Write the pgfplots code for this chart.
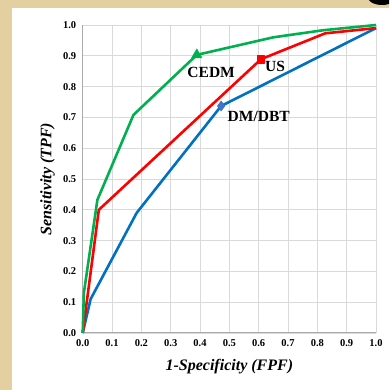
\documentclass[border=0pt]{standalone}
\usepackage{fontspec}
\setmainfont{Liberation Serif}
\usepackage{pgfplots}
\pgfplotsset{compat=1.18}

\definecolor{parchment}{RGB}{228,207,160}
\definecolor{gridgray}{RGB}{217,217,217}
\definecolor{axgray}{RGB}{170,170,170}
\definecolor{cedmgreen}{RGB}{0,176,80}
\definecolor{usred}{RGB}{255,0,0}
\definecolor{dmblue}{RGB}{0,112,192}
\definecolor{dmmark}{RGB}{68,114,196}

\begin{document}
\begin{tikzpicture}[x=1pt,y=1pt]
  \useasboundingbox (0,0) rectangle (389,390);
  % parchment backdrop and white panel
  \fill[parchment] (0,0) rectangle (389,390);
  \begin{scope}
    \clip (0,0) rectangle (389,390);
    \fill[black] (382,394) ellipse [x radius=15, y radius=9];
  \end{scope}
  \fill[white] (12,0) rectangle (389,382);

  \begin{axis}[
    at={(82.7pt,57pt)}, anchor=south west,
    width=293.3pt, height=308pt, scale only axis,
    xmin=0, xmax=1, ymin=0, ymax=1,
    xtick={0,0.1,...,1.0}, ytick={0,0.1,...,1.0},
    grid=major,
    major grid style={gridgray, line width=0.9pt},
    axis line style={draw=none},
    tick style={draw=none},
    axis x line*=bottom, axis y line*=left,
    /pgf/number format/fixed,
    /pgf/number format/fixed zerofill,
    /pgf/number format/precision=1,
    /pgf/number format/assume math mode=true,
    ticklabel style={font=\fontsize{10.5}{12}\selectfont\bfseries},
    xticklabel style={yshift=-3pt},
    yticklabel style={xshift=-3pt},
    xlabel={\textbf{\textit{1-Specificity (FPF)}}},
    ylabel={\textbf{\textit{Sensitivity (TPF)}}},
    label style={font=\fontsize{16}{18}\selectfont},
    xlabel style={at={(axis description cs:0.5,-0.11)}, anchor=center},
    ylabel style={at={(axis description cs:-0.12,0.5)}, anchor=center},
    clip=false,
  ]
    % axes on left and bottom
    \draw[axgray, line width=1pt] (axis cs:0,1) -- (axis cs:0,0) -- (axis cs:1,0);

    % DM/DBT
    \addplot[dmblue, line width=2.6pt, line join=round, mark=diamond*, mark indices={4},
      mark options={fill=dmmark, draw=dmmark, line width=0.5pt, scale=2.5}]
      coordinates {(0,0) (0.027,0.11) (0.184,0.39) (0.472,0.737) (1.0,0.99)};
    % US
    \addplot[usred, line width=2.6pt, line join=round, mark=square*, mark indices={3},
      mark options={fill=usred, line width=0.5pt, scale=1.8}]
      coordinates {(0,0) (0.055,0.40) (0.608,0.889) (0.827,0.973) (1.0,0.99)};
    % CEDM
    \addplot[cedmgreen, line width=2.6pt, line join=round, mark=triangle*, mark indices={5},
      mark options={fill=cedmgreen, line width=0.5pt, scale=3}]
      coordinates {(0,0) (0.004,0.13) (0.05,0.432) (0.173,0.708) (0.389,0.903) (0.65,0.96) (0.82,0.983) (1.0,1.0)};

    \node[font=\fontsize{15.5}{17}\selectfont\bfseries] at (axis cs:0.438,0.846) {CEDM};
    \node[font=\fontsize{15.5}{17}\selectfont\bfseries] at (axis cs:0.656,0.865) {US};
    \node[font=\fontsize{15.5}{17}\selectfont\bfseries] at (axis cs:0.60,0.702) {DM/DBT};
  \end{axis}
\end{tikzpicture}
\end{document}
